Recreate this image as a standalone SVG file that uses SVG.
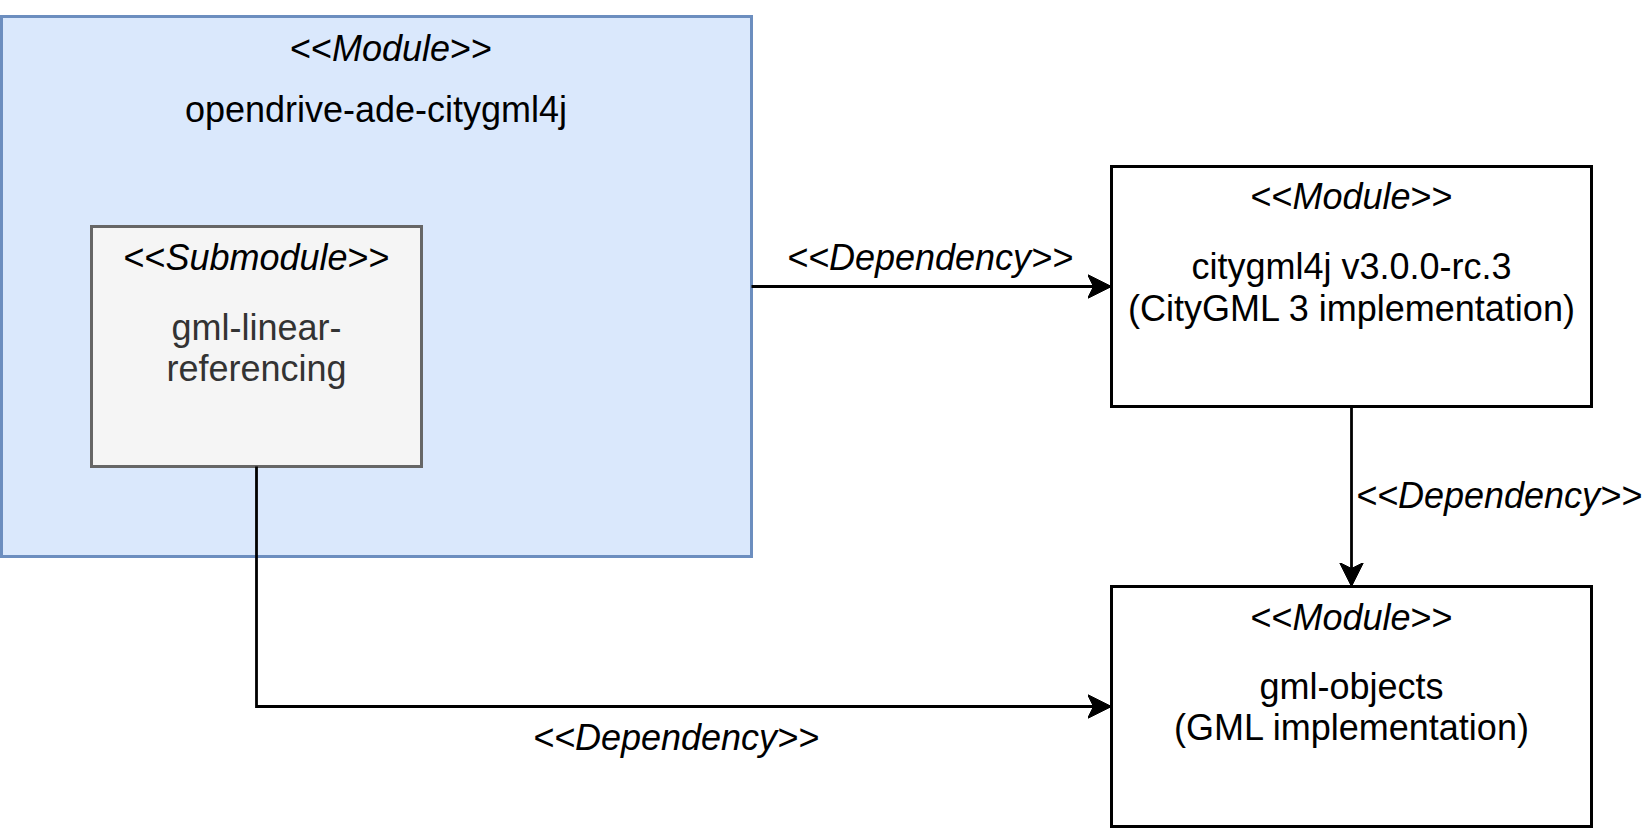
<svg xmlns="http://www.w3.org/2000/svg" width="1647" height="828" viewBox="0 0 1647 828">
<style>
text{font-family:"Liberation Sans",Arial,Helvetica,sans-serif;font-size:36px;fill:#000;text-anchor:middle}
.it{font-style:italic}
.box{fill:#fff;stroke:#000;stroke-width:3}
.edge{fill:none;stroke:#000;stroke-width:2.8}
</style>
<defs>
<marker id="arr" viewBox="0 0 26 26" markerWidth="26" markerHeight="26" refX="24" refY="13" orient="auto" markerUnits="userSpaceOnUse">
<path d="M24,13 L0,1 L6,13 L0,25 Z" fill="#000" stroke="#000" stroke-width="1"/>
</marker>
</defs>
<g id="module-opendrive">
<rect x="1.5" y="16.5" width="750" height="540" fill="#dae8fc" stroke="#6c8ebf" stroke-width="3"/>
<text x="391" y="60.5">&lt;&lt;<tspan class="it">Module</tspan>&gt;&gt;</text>
<text x="376" y="121.5">opendrive-ade-citygml4j</text>
</g>
<g id="submodule-gml-linear">
<rect x="91.5" y="226.5" width="330" height="240" fill="#f5f5f5" stroke="#666666" stroke-width="3"/>
<text x="256.5" y="269.5">&lt;&lt;<tspan class="it">Submodule</tspan>&gt;&gt;</text>
<text x="256.5" y="339.5" style="fill:#333333">gml-linear-</text>
<text x="256.5" y="380.5" style="fill:#333333">referencing</text>
</g>
<g id="module-citygml4j">
<rect class="box" x="1111.5" y="166.5" width="480" height="240"/>
<text x="1351.5" y="208.5">&lt;&lt;<tspan class="it">Module</tspan>&gt;&gt;</text>
<text x="1351.5" y="279">citygml4j v3.0.0-rc.3</text>
<text x="1351.5" y="321">(CityGML 3 implementation)</text>
</g>
<g id="module-gml-objects">
<rect class="box" x="1111.5" y="586.5" width="480" height="240"/>
<text x="1351.5" y="629.5">&lt;&lt;<tspan class="it">Module</tspan>&gt;&gt;</text>
<text x="1351.5" y="699">gml-objects</text>
<text x="1351.5" y="740">(GML implementation)</text>
</g>
<g id="connectors">
<path class="edge" d="M751.5,286.5 L1111.5,286.5" marker-end="url(#arr)"/>
<path class="edge" d="M1351.5,406.5 L1351.5,586.5" marker-end="url(#arr)"/>
<path class="edge" d="M256.5,466.5 L256.5,706.5 L1111.5,706.5" marker-end="url(#arr)"/>
<text class="it" x="930" y="269.5">&lt;&lt;Dependency&gt;&gt;</text>
<text class="it" x="1499" y="507.5">&lt;&lt;Dependency&gt;&gt;</text>
<text class="it" x="676" y="749.5">&lt;&lt;Dependency&gt;&gt;</text>
</g>
</svg>
